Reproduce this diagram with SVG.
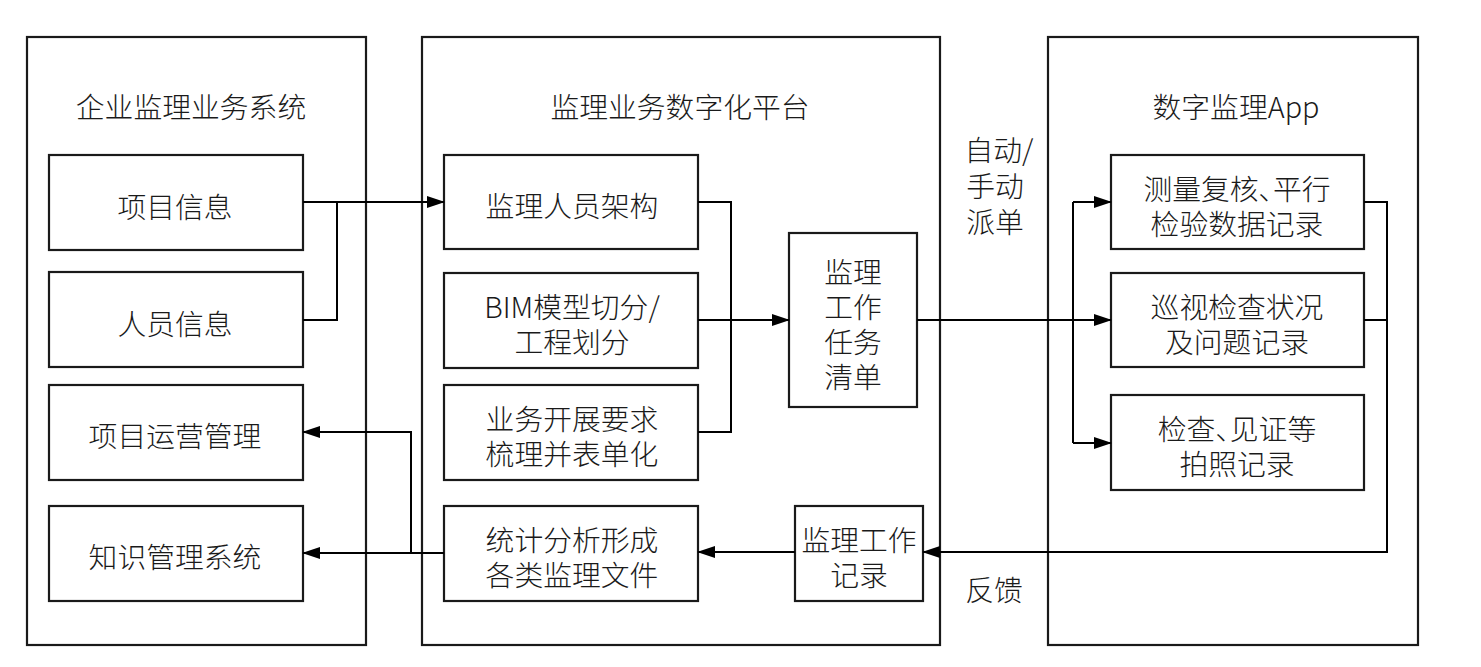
<svg xmlns="http://www.w3.org/2000/svg" width="1481" height="667" viewBox="0 0 1481 667">
<style>
.panel{fill:none;stroke:#1a1a1a;stroke-width:2.2}
.box{fill:#fff;stroke:#1a1a1a;stroke-width:2.2}
.t{font-family:"Noto Sans CJK SC","Noto Sans",sans-serif;font-size:28.8px;font-weight:300;fill:#1a1a1a;text-anchor:middle;dominant-baseline:central}
.p{font-feature-settings:"palt"}
.c{fill:none;stroke:#000;stroke-width:2}
</style>
<defs>
<marker id="ah" markerWidth="18" markerHeight="12" refX="17" refY="6" orient="auto" markerUnits="userSpaceOnUse">
<path d="M0,0 L18,6 L0,12 Z" fill="#000"/>
</marker>
</defs>
<rect width="1481" height="667" fill="#fff"/>

<g id="panel-left">
<rect class="panel" x="27" y="37" width="339" height="608"/>
<text class="t" x="191" y="105">企业监理业务系统</text>
</g>
<g id="panel-mid">
<rect class="panel" x="422" y="37" width="518" height="608"/>
<text class="t" x="680" y="105">监理业务数字化平台</text>
</g>
<g id="panel-right">
<rect class="panel" x="1048" y="37" width="370" height="608"/>
<text class="t" x="1236" y="105">数字监理App</text>
</g>

<g id="n-xmxx"><rect class="box" x="49" y="155" width="254" height="95"/><text class="t" x="175" y="205">项目信息</text></g>
<g id="n-ryxx"><rect class="box" x="49" y="272" width="254" height="95"/><text class="t" x="175" y="322">人员信息</text></g>
<g id="n-xmyy"><rect class="box" x="49" y="385" width="254" height="95"/><text class="t" x="175" y="434">项目运营管理</text></g>
<g id="n-zsgl"><rect class="box" x="49" y="506" width="254" height="95"/><text class="t" x="175" y="555">知识管理系统</text></g>

<g id="n-ryjg"><rect class="box" x="444" y="155" width="254" height="94"/><text class="t" x="572" y="204">监理人员架构</text></g>
<g id="n-bim"><rect class="box" x="444" y="273" width="254" height="95"/><text class="t" x="572" y="305">BIM模型切分/</text><text class="t" x="572" y="340">工程划分</text></g>
<g id="n-ywkz"><rect class="box" x="444" y="385" width="254" height="95"/><text class="t" x="572" y="417">业务开展要求</text><text class="t" x="572" y="452">梳理并表单化</text></g>
<g id="n-tjfx"><rect class="box" x="444" y="506" width="254" height="95"/><text class="t" x="572" y="538">统计分析形成</text><text class="t" x="572" y="573">各类监理文件</text></g>
<g id="n-rwqd"><rect class="box" x="789" y="233" width="128" height="174"/><text class="t" x="853" y="270">监理</text><text class="t" x="853" y="305">工作</text><text class="t" x="853" y="340">任务</text><text class="t" x="853" y="375">清单</text></g>
<g id="n-gzjl"><rect class="box" x="795" y="506" width="128" height="95"/><text class="t" x="859" y="538">监理工作</text><text class="t" x="859" y="573">记录</text></g>

<g id="n-clfh"><rect class="box" x="1111" y="155" width="253" height="94"/><text class="t p" x="1237" y="187">测量复核、平行</text><text class="t" x="1237" y="222">检验数据记录</text></g>
<g id="n-xsjc"><rect class="box" x="1111" y="273" width="253" height="94"/><text class="t" x="1237" y="305">巡视检查状况</text><text class="t" x="1237" y="340">及问题记录</text></g>
<g id="n-jcjz"><rect class="box" x="1111" y="395" width="253" height="95"/><text class="t p" x="1237" y="427">检查、见证等</text><text class="t" x="1237" y="462">拍照记录</text></g>

<g id="labels">
<text class="t" x="999" y="148">自动/</text>
<text class="t" x="995" y="184">手动</text>
<text class="t" x="995" y="220">派单</text>
<text class="t" x="994" y="588">反馈</text>
</g>

<g id="connectors">
<path class="c" d="M303,202 H444" marker-end="url(#ah)"/>
<path class="c" d="M303,320 H337 V202"/>
<path class="c" d="M698,202 H731 V432 H698"/>
<path class="c" d="M698,320 H789" marker-end="url(#ah)"/>
<path class="c" d="M917,320 H1111" marker-end="url(#ah)"/>
<path class="c" d="M1073,202 V443"/>
<path class="c" d="M1073,202 H1111" marker-end="url(#ah)"/>
<path class="c" d="M1073,443 H1111" marker-end="url(#ah)"/>
<path class="c" d="M1364,202 H1387 V552 H923" marker-end="url(#ah)"/>
<path class="c" d="M1364,320 H1387"/>
<path class="c" d="M795,552 H698" marker-end="url(#ah)"/>
<path class="c" d="M444,553 H303" marker-end="url(#ah)"/>
<path class="c" d="M411,553 V432 H303" marker-end="url(#ah)"/>
</g>
</svg>
